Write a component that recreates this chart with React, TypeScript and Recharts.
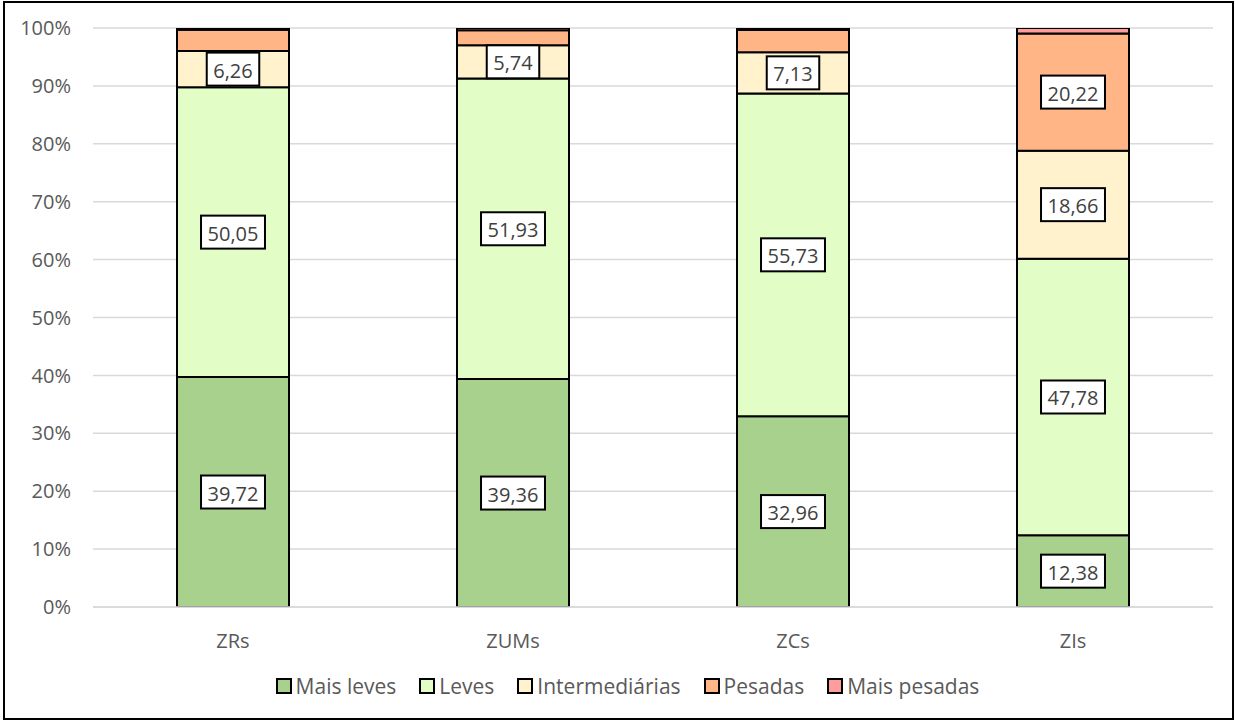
import React from "react";
import { BarChart, Bar, XAxis, YAxis, CartesianGrid, LabelList, Legend } from "recharts";

const zones = ["ZRs", "ZUMs", "ZCs", "ZIs"];
const maisLeves = [39.72, 39.36, 32.96, 12.38];
const leves = [50.05, 51.93, 55.73, 47.78];
const intermediarias = [6.26, 5.74, 7.13, 18.66];
const pesadas = [3.67, 2.6, 3.85, 20.22];
const maisPesadas = [0.3, 0.37, 0.33, 0.96];
const yTicks = [0, 10, 20, 30, 40, 50, 60, 70, 80, 90, 100];

const seriesDefs = [
  { key: "maisLeves", name: "Mais leves", color: "#a9d18e", values: maisLeves },
  { key: "leves", name: "Leves", color: "#e2fec6", values: leves },
  { key: "intermediarias", name: "Intermediárias", color: "#fff2cc", values: intermediarias },
  { key: "pesadas", name: "Pesadas", color: "#ffb586", values: pesadas },
  { key: "maisPesadas", name: "Mais pesadas", color: "#ff9c9c", values: maisPesadas },
];

const data = zones.map((zone, i) => {
  const row: Record<string, number | string> = { zone };
  seriesDefs.forEach((s) => {
    row[s.key] = s.values[i];
  });
  return row;
});

const FONT = "'Open Sans', 'Noto Sans', sans-serif";

const fmt = (v: number) => v.toFixed(2).replace(".", ",");

// Boxed value label centred in each segment (small segments stay unlabelled)
const BoxLabel = (props: any) => {
  const { x, y, width, height, value } = props;
  if (value == null || value < 5) return null;
  const text = fmt(Number(value));
  const tw = text.replace(",", "").length * 11.44 + 5.2;
  const bw = tw + 13;
  const bh = 33;
  const cx = x + width / 2;
  const cy = y + height / 2;
  return (
    <g>
      <rect x={cx - bw / 2} y={cy - bh / 2} width={bw} height={bh} fill="#ffffff" stroke="#000" strokeWidth={2} />
      <text x={cx} y={cy + 1} textAnchor="middle" dominantBaseline="central" fontFamily={FONT} fontSize={20} fill="#404040">
        {text}
      </text>
    </g>
  );
};

const LegendContent = () => (
  <div style={{ display: "flex", justifyContent: "center", alignItems: "center", fontFamily: FONT, fontSize: 21, color: "#595959", lineHeight: "26px", paddingLeft: 20 }}>
    {seriesDefs.map((s, i) => (
      <div key={s.key} style={{ display: "flex", alignItems: "center", marginLeft: i === 0 ? 0 : 23 }}>
        <span style={{ display: "inline-block", width: 12, height: 12, background: s.color, border: "2px solid #000", marginRight: 4 }} />
        <span>{s.name}</span>
      </div>
    ))}
  </div>
);

export default function App() {
  return (
    <div style={{ position: "absolute", left: 0, top: 0, width: 1235, height: 721, background: "#fff" }}>
      <div style={{ position: "absolute", left: 3, top: 1, width: 1227, height: 715, border: "2px solid #000" }} />
      <div style={{ position: "absolute", left: 0, top: 0 }}>
        <BarChart width={1235} height={721} data={data} margin={{ top: 28, right: 22, bottom: 58, left: 0 }} barSize={112}>
          <CartesianGrid vertical={false} stroke="#d9d9d9" strokeWidth={1.5} />
          <XAxis
            dataKey="zone"
            tickLine={false}
            tickSize={0}
            tickMargin={27}
            axisLine={{ stroke: "#d9d9d9", strokeWidth: 1.5 }}
            tick={{ fontFamily: FONT, fontSize: 20, fill: "#595959" }}
          />
          <YAxis
            width={93}
            domain={[0, 100]}
            ticks={yTicks}
            allowDataOverflow
            tickFormatter={(v: number) => `${v}%`}
            axisLine={false}
            tickLine={false}
            tickSize={0}
            tickMargin={22}
            tick={{ fontFamily: FONT, fontSize: 20, fill: "#595959" }}
          />
          <Legend
            verticalAlign="bottom"
            content={<LegendContent />}
            wrapperStyle={{ left: 0, width: 1235, bottom: 22 }}
          />
          {seriesDefs.map((s) => (
            <Bar key={s.key} dataKey={s.key} name={s.name} stackId="a" fill={s.color} stroke="#000" strokeWidth={2} isAnimationActive={false}>
              <LabelList dataKey={s.key} content={<BoxLabel />} />
            </Bar>
          ))}
        </BarChart>
      </div>
    </div>
  );
}
